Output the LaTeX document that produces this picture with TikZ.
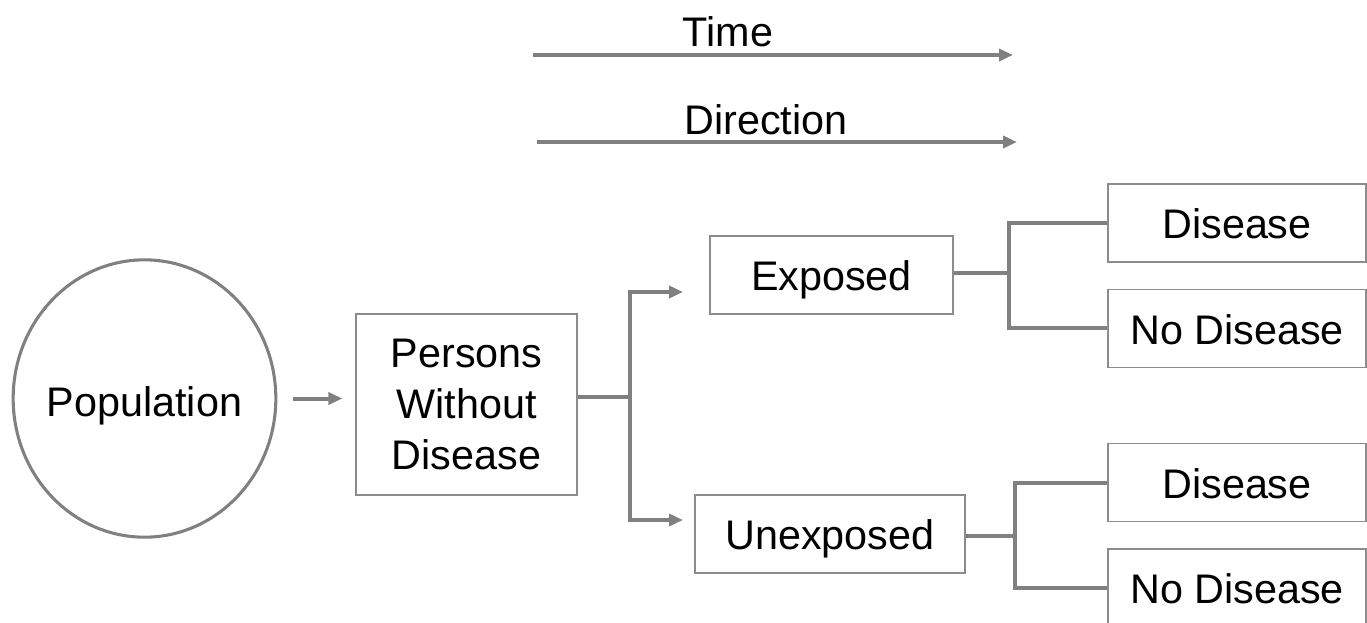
\documentclass[tikz,border=0pt]{standalone}
\usepackage{fontspec}
\setmainfont{Liberation Sans}
\usetikzlibrary{arrows.meta,positioning,shapes.geometric}
\definecolor{LineGray}{RGB}{128,128,128}
\definecolor{BoxGray}{RGB}{140,140,140}
\tikzset{
  bigtext/.style={font=\fontsize{31}{38}\selectfont,text=black},
  cohortbox/.style={draw=BoxGray,line width=1pt,rectangle,fill=white,
    minimum height=58.5pt,align=center,inner sep=2pt,bigtext,
    text height=30pt,text depth=6.5pt},
  popcircle/.style={draw=LineGray,line width=2.3pt,ellipse,inner sep=0pt,
    minimum width=197pt,minimum height=208pt,bigtext,
    text height=33pt,text depth=6.5pt},
  flowarrow/.style={-{Triangle[length=10.5pt,width=9pt]},
    line width=3pt,draw=LineGray},
  branchline/.style={line width=3pt,draw=LineGray},
}
\begin{document}
\begin{tikzpicture}[x=0.75pt,y=-0.75pt,node distance=19.5pt]
  \useasboundingbox (0,0) rectangle (1367,622);
  % time direction
  \node[bigtext] (timelabel) at (728,32) {Time};
  \node[bigtext] (dirlabel) at (766,120) {Direction};
  \coordinate (timeA) at (533,55);
  \coordinate (timeB) at (1013,55);
  \coordinate (dirA) at (537,142);
  \coordinate (dirB) at (1017,142);
  \draw[flowarrow] (timeA) -- (timeB);
  \draw[flowarrow] (dirA) -- (dirB);
  % cohort
  \node[popcircle] (population) at (144.5,398.5) {\makebox[0pt]{Population}};
  \node[cohortbox,text height=,text depth=,minimum width=165.75pt,
    minimum height=135.75pt] (persons) at (466.5,404.5)
    {\raisebox{-3pt}{\parbox{160pt}{\centering Persons\\Without\\Disease}}};
  \node[cohortbox,minimum width=182.25pt] (exposed) at (831.5,275) {Exposed};
  \node[cohortbox,minimum width=202.5pt] (unexposed) at (830,534) {Unexposed};
  \node[cohortbox,minimum width=193.5pt] (dis1) at (1237,223) {Disease};
  \node[cohortbox,minimum width=193.5pt,below=of dis1] (nodis1) {No Disease};
  \node[cohortbox,minimum width=193.5pt] (dis2) at (1237,482.5) {Disease};
  \node[cohortbox,minimum width=193.5pt,below=of dis2] (nodis2) {No Disease};
  \draw[flowarrow,shorten <=12pt,shorten >=9.75pt]
    (population.east) -- (population.east -| persons.west);
  % exposure split
  \coordinate (split) at (630,397);
  \coordinate (toexp) at (683,292);
  \coordinate (tounexp) at (683,520);
  \draw[branchline] (persons.east |- split) -- (split);
  \draw[flowarrow] (split) |- (toexp);
  \draw[flowarrow] (split) |- (tounexp);
  % outcome splits
  \coordinate (exsplit) at (1009,273);
  \coordinate (unsplit) at (1015,536);
  \draw[branchline] (exposed.east |- exsplit) -- (exsplit);
  \draw[branchline] (exsplit) |- (dis1.west);
  \draw[branchline] (exsplit) |- (nodis1.west);
  \draw[branchline] (unexposed.east |- unsplit) -- (unsplit);
  \draw[branchline] (unsplit) |- (dis2.west);
  \draw[branchline] (unsplit) |- (nodis2.west);
\end{tikzpicture}
\end{document}
